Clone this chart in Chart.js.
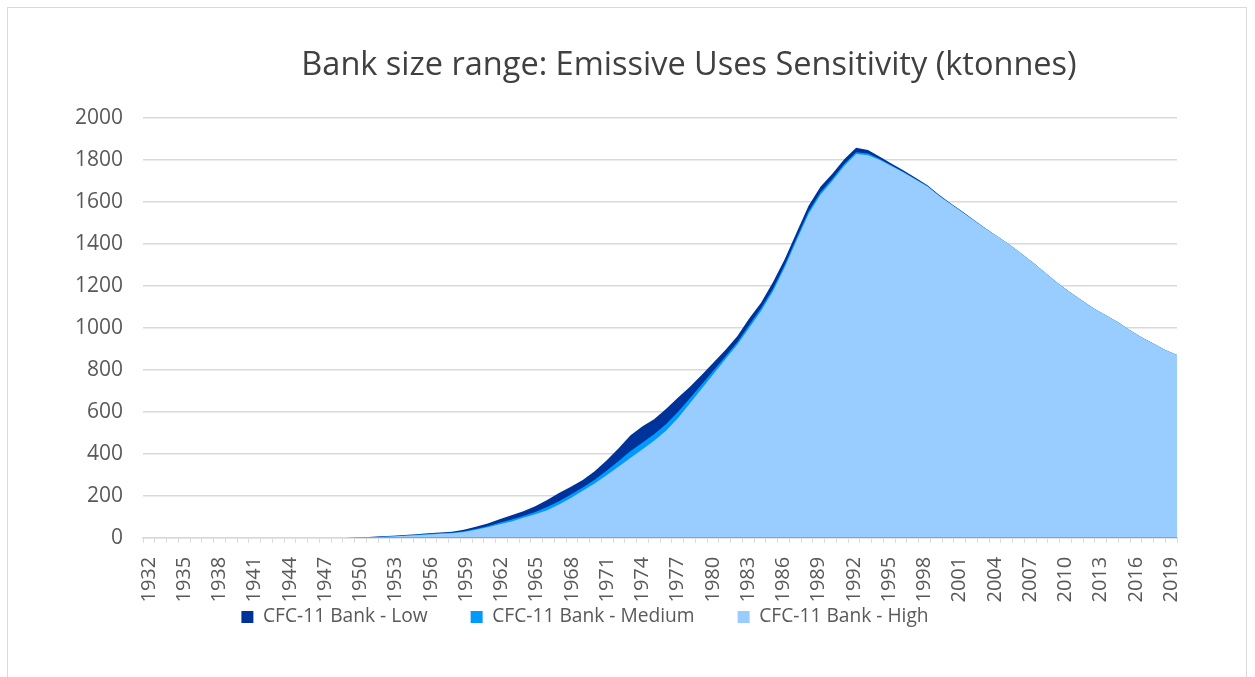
<!DOCTYPE html>
<html>
<head>
<meta charset="utf-8">
<script src="https://cdn.jsdelivr.net/npm/chart.js@4.4.1/dist/chart.umd.min.js"></script>
<style>
  html, body { margin: 0; padding: 0; background: #ffffff; }
  body { width: 1255px; height: 677px; position: relative; overflow: hidden; }
  #frame { position: absolute; left: 7px; top: 7px; width: 1240px; height: 720px; border: 1px solid #d9d9d9; box-sizing: border-box; }
  #c { position: absolute; left: 0; top: 0; }
</style>
</head>
<body>
<div id="frame"></div>
<canvas id="c" width="1255" height="677"></canvas>
<script>
// ---- data ----
const years = [
  1932,1933,1934,1935,1936,1937,1938,1939,1940,1941,
  1942,1943,1944,1945,1946,1947,1948,1949,1950,1951,
  1952,1953,1954,1955,1956,1957,1958,1959,1960,1961,
  1962,1963,1964,1965,1966,1967,1968,1969,1970,1971,
  1972,1973,1974,1975,1976,1977,1978,1979,1980,1981,
  1982,1983,1984,1985,1986,1987,1988,1989,1990,1991,
  1992,1993,1994,1995,1996,1997,1998,1999,2000,2001,
  2002,2003,2004,2005,2006,2007,2008,2009,2010,2011,
  2012,2013,2014,2015,2016,2017,2018,2019
];
const xTickLabels = ['1932','1935','1938','1941','1944','1947','1950','1953','1956','1959','1962','1965','1968','1971','1974','1977','1980','1983','1986','1989','1992','1995','1998','2001','2004','2007','2010','2013','2016','2019'];
const yTicks = [0,200,400,600,800,1000,1200,1400,1600,1800,2000];

const bankLow = [
  0,0,0,0,0,0,0,0,0,0, 0,0,0,0,0,0,0,0,
  2,4,7,10,13,17,22,25,29,38,
  52,68,88,107,126,150,180,213,243,275,
  317,368,425,487,530,565,614,667,718,775,
  835,895,960,1045,1120,1218,1328,1456,1582,1673,
  1734,1803,1858,1848,1815,1782,1750,1715,1680,1633,
  1592,1552,1510,1470,1432,1392,1350,1305,1258,1212,
  1170,1130,1092,1060,1028,990,955,925,895,871
];
const bankMedium = [
  0,0,0,0,0,0,0,0,0,0, 0,0,0,0,0,0,0,0,
  1,3,5,7,10,14,18,21,24,31,
  42,55,71,87,104,123,146,174,206,239,
  276,319,364,412,453,493,541,599,663,730,
  797,864,932,1014,1093,1187,1301,1429,1554,1646,
  1710,1781,1837,1831,1805,1774,1743,1709,1676,1630,
  1589,1550,1509,1469,1432,1392,1350,1305,1258,1212,
  1170,1130,1092,1060,1028,990,955,925,895,871
];
const bankHigh = [
  0,0,0,0,0,0,0,0,0,0, 0,0,0,0,0,0,0,0,
  1,2,4,6,9,12,16,19,22,28,
  38,50,64,78,95,112,131,158,190,224,
  258,298,338,380,420,462,510,570,640,710,
  780,850,920,1000,1081,1173,1289,1417,1542,1634,
  1700,1771,1828,1823,1800,1770,1740,1707,1674,1628,
  1588,1549,1508,1469,1432,1392,1350,1305,1258,1212,
  1170,1130,1092,1060,1028,990,955,925,895,871
];
const seriesNames = ['CFC-11 Bank - Low','CFC-11 Bank - Medium','CFC-11 Bank - High'];
const seriesColors = ['#003399','#0099FF','#99CCFF'];

// ---- layout helper: place title and legend like the original ----
const shiftBoxes = {
  id: 'shiftBoxes',
  afterLayout(chart, args, opts) {
    const t = chart.titleBlock;
    if (t) {
      const dx = opts.titleCenterX - (t.left + t.right) / 2;
      t.left += dx; t.right += dx;
    }
    const lg = chart.legend;
    if (lg) {
      const dx = opts.legendCenterX - (lg.left + lg.right) / 2;
      lg.left += dx; lg.right += dx;
      const pad = lg.options.labels.padding;
      const fs = (lg.options.labels.font && lg.options.labels.font.size) || 18;
      const newTop = opts.legendCenterY - pad - fs / 2;
      lg.top = newTop;
      lg.bottom = newTop + 2 * pad + fs;
      lg.height = lg.bottom - lg.top;
    }
  }
};

const FONT = "'Open Sans', 'Noto Sans', sans-serif";
const TXT = '#595959';

new Chart(document.getElementById('c'), {
  type: 'line',
  data: {
    labels: years.map(String),
    datasets: [
      { label: seriesNames[0], data: bankLow, backgroundColor: seriesColors[0], borderColor: seriesColors[0], borderWidth: 0, fill: 'origin', pointRadius: 0, tension: 0, order: 3, xAxisID: 'xd' },
      { label: seriesNames[1], data: bankMedium, backgroundColor: seriesColors[1], borderColor: seriesColors[1], borderWidth: 0, fill: 'origin', pointRadius: 0, tension: 0, order: 2, xAxisID: 'xd' },
      { label: seriesNames[2], data: bankHigh, backgroundColor: seriesColors[2], borderColor: seriesColors[2], borderWidth: 0, fill: 'origin', pointRadius: 0, tension: 0, order: 1, xAxisID: 'xd' }
    ]
  },
  options: {
    responsive: false,
    animation: false,
    devicePixelRatio: 1,
    layout: { padding: { left: 55, right: 78, top: 0, bottom: 22.5 } },
    scales: {
      xd: {
        type: 'category',
        labels: years.map(String),
        offset: false,
        display: false
      },
      x: {
        type: 'category',
        labels: years.map(String),
        offset: true,
        grid: { offset: true, drawOnChartArea: false, drawTicks: true, tickLength: 5, color: '#d9d9d9', lineWidth: 1 },
        border: { display: true, color: '#d9d9d9', width: 1.5 },
        ticks: {
          autoSkip: false,
          maxRotation: 90,
          minRotation: 90,
          padding: 14,
          color: TXT,
          font: { family: FONT, size: 20 },
          callback: function (value) {
            const lbl = String(this.getLabelForValue(value));
            return xTickLabels.includes(lbl) ? lbl : '';
          }
        }
      },
      y: {
        min: yTicks[0],
        max: yTicks[yTicks.length - 1],
        afterBuildTicks: (scale) => { scale.ticks = yTicks.map(v => ({ value: v })); },
        grid: { color: '#d9d9d9', lineWidth: 1.5, drawTicks: false },
        border: { display: false },
        ticks: { padding: 20, color: TXT, font: { family: FONT, size: 21 }, callback: (v) => String(v) }
      }
    },
    plugins: {
      title: {
        display: true,
        text: 'Bank size range: Emissive Uses Sensitivity (ktonnes)',
        color: '#404040',
        font: { family: FONT, size: 32.5, weight: 'normal' },
        padding: { top: 46, bottom: 33 }
      },
      legend: {
        display: true,
        position: 'bottom',
        maxHeight: 38,
        labels: {
          color: TXT,
          font: { family: FONT, size: 19.2 },
          boxWidth: 12,
          boxHeight: 12,
          padding: 43,
          sort: (a, b) => a.datasetIndex - b.datasetIndex
        }
      },
      tooltip: { enabled: false },
      shiftBoxes: { titleCenterX: 689, legendCenterX: 585, legendCenterY: 617 }
    }
  },
  plugins: [shiftBoxes]
});
</script>
</body>
</html>
